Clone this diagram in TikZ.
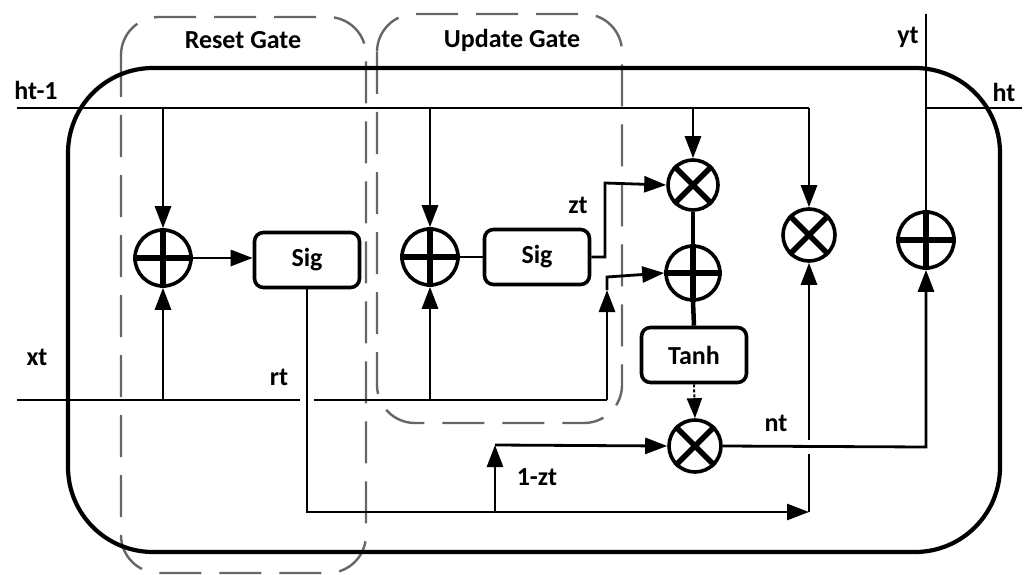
\documentclass[tikz,border=0pt]{standalone}
\usepackage{fontspec}
\setmainfont{Carlito}
\usetikzlibrary{arrows.meta}
\begin{document}
\begin{tikzpicture}[x=1pt,y=-1pt,
  thin line/.style={line width=2.8pt},
  arr/.style={thin line,-{Triangle[length=22pt,width=16pt]}},
  gate/.style={draw=black!60,line width=2.4pt,dash pattern=on 42pt off 18pt,rounded corners=38pt},
  opcirc/.style={circle,draw,line width=3.6pt,minimum size=#1,inner sep=0pt},
  fbox/.style={draw,line width=3.6pt,rounded corners=9pt,minimum width=105pt,minimum height=55pt,inner sep=0pt},
  lbl/.style={font=\bfseries\fontsize{26}{30}\selectfont,inner sep=0pt}
]
\useasboundingbox (0,0) rectangle (1030,575);
% gate boxes
\draw[gate] (121,17) rectangle (366,573);
\draw[gate] (377,14) rectangle (622,423);
\node[lbl] (resetlbl) at (243,40) {Reset Gate};
\node[lbl] (updatelbl) at (512,40) {Update Gate};
% outer cell
\draw[line width=4.2pt,rounded corners=85pt] (68,68) rectangle (1000,552);
% operator nodes
\node[opcirc=56pt] (p1) at (163,258) {};
\node[opcirc=56pt] (p2) at (430,257) {};
\node[opcirc=50pt] (m1) at (693,185) {};
\node[opcirc=54pt] (p3) at (693,273) {};
\node[opcirc=52pt] (m2) at (809,235) {};
\node[opcirc=52pt] (m3) at (695,446) {};
\node[opcirc=56pt] (p4) at (926,240) {};
\foreach \n in {p1,p2,p3,p4}{
  \draw[line width=6pt] (\n.north) -- (\n.south);
  \draw[line width=6pt] (\n.west) -- (\n.east);
}
\foreach \n in {m1,m2,m3}{
  \draw[line width=5.5pt] (\n.45) -- (\n.225);
  \draw[line width=5.5pt] (\n.135) -- (\n.315);
}
% function boxes
\node[fbox,lbl] (s1) at (307,260) {Sig};
\node[fbox,lbl] (s2) at (537,257) {Sig};
\node[fbox,lbl] (tanh) at (694,355) {Tanh};
% coordinates
\coordinate (hin) at (17,108);
\coordinate (hend) at (809,108);
\coordinate (hb1) at (163,108);
\coordinate (hb2) at (430,108);
\coordinate (hb3) at (693,108);
\coordinate (xin) at (17,400);
\coordinate (xgap1) at (300,400);
\coordinate (xgap2) at (314,400);
\coordinate (xb1) at (163,400);
\coordinate (xb2) at (430,400);
\coordinate (xc) at (607,400);
\coordinate (xup) at (607,290);
\coordinate (xtop) at (607,277);
\coordinate (z1) at (605,257);
\coordinate (z2) at (605,183);
\coordinate (s1b) at (307,512);
\coordinate (rb) at (809,512);
\coordinate (rgap1) at (809,454);
\coordinate (rgap2) at (809,440);
\coordinate (zb) at (495,512);
\coordinate (zt) at (495,445);
\coordinate (nc) at (926,447);
\coordinate (ytop) at (926,14);
\coordinate (hto) at (926,108);
\coordinate (hout) at (1022,108);
% h(t-1) line
\draw[thin line] (hin) -- (hend);
\draw[arr] (hend) -- (m2.north);
\draw[arr] (hb1) -- (p1.north);
\draw[arr] (hb2) -- (p2.north);
\draw[arr] (hb3) -- (m1.north);
% x(t) line
\draw[thin line] (xin) -- (xgap1);
\draw[thin line] (xgap2) -- (xc);
\draw[arr] (xc) -- (xup);
\draw[arr] (xup) -- (xtop) -- (p3.west);
\draw[arr] (xb1) -- (p1.south);
\draw[arr] (xb2) -- (p2.south);
% gates
\draw[arr] (p1.east) -- (p1.east -| s1.west);
\draw[thin line] (p2.east) -- (s2.west);
\draw[arr] (s2.east) -- (z1) -- (z2) -- (m1.west);
\draw[line width=4.5pt] (m1.south) -- (p3.north);
\draw[line width=4.5pt] (p3.south) -- (tanh.north);
\draw[line width=2pt,densely dashed,-{Triangle[length=20pt,width=15pt]}] (tanh.south) -- (m3.north);
% reset output
\draw[arr] (s1.south) -- (s1b) -- (rb);
\draw[thin line] (rb) -- (rgap1);
\draw[arr] (rgap2) -- (m2.south);
% 1-zt
\draw[arr] (zb) -- (zt);
\draw[arr] (zt) -- (m3.west);
% n(t)
\draw[arr] (m3.east) -- (nc) -- (p4.south);
% outputs
\draw[thin line] (p4.north) -- (ytop);
\draw[thin line] (hto) -- (hout);
% labels
\node[lbl] (lh1) at (36,90) {ht-1};
\node[lbl] (lxt) at (37,357) {xt};
\node[lbl] (lrt) at (279,377) {rt};
\node[lbl] (lzt) at (578,205) {zt};
\node[lbl] (l1zt) at (537,477) {1-zt};
\node[lbl] (lnt) at (776,423) {nt};
\node[lbl] (lyt) at (908,37) {yt};
\node[lbl] (lht) at (1004,92) {ht};
\end{tikzpicture}
\end{document}
